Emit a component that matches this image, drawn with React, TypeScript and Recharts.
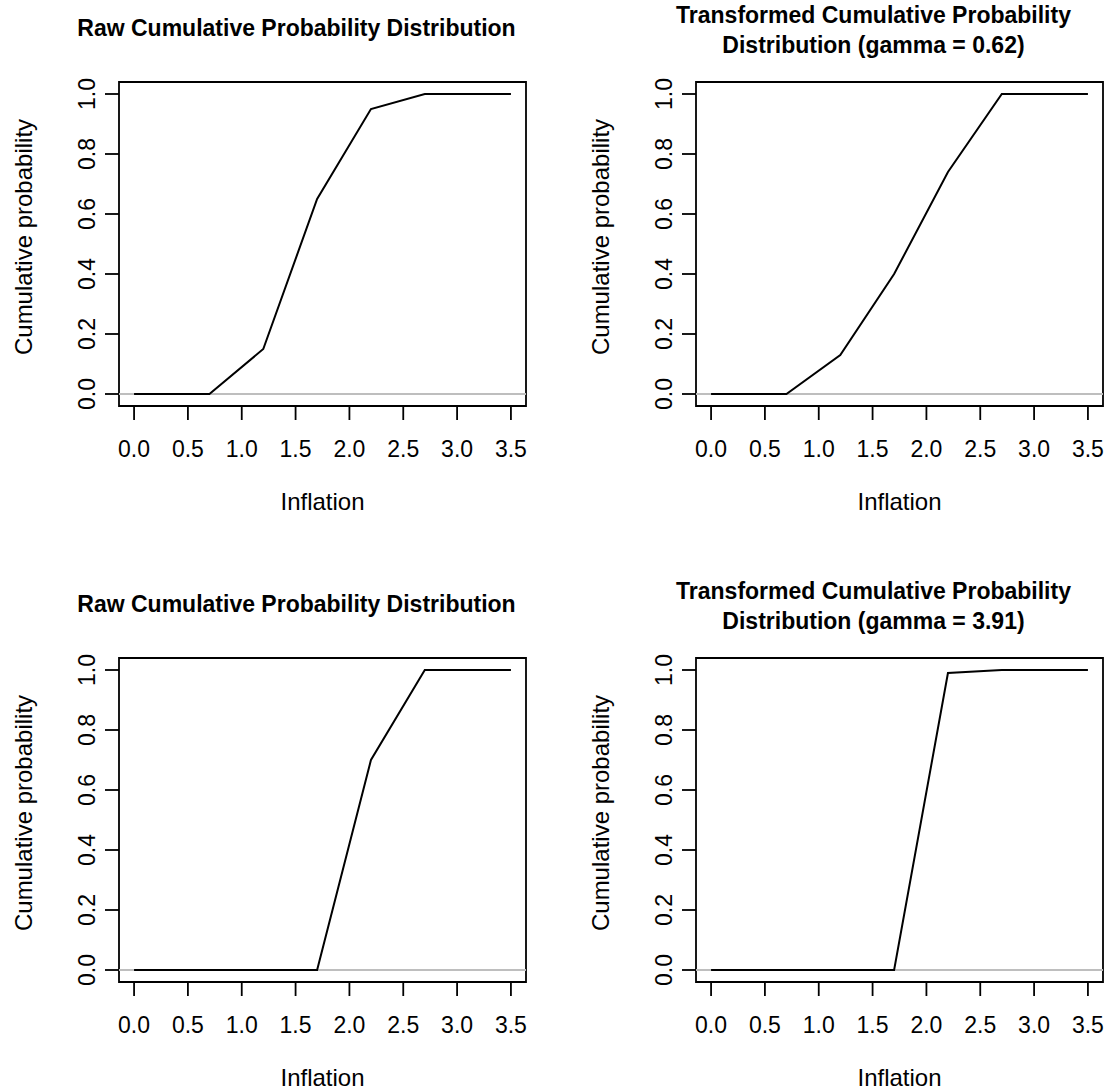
import { LineChart, Line, XAxis, YAxis, ReferenceLine, ReferenceArea } from "recharts";

// inflation grid shared by all four panels
const inflation = [0, 0.7, 1.2, 1.7, 2.2, 2.7, 3.5];

const rawTop = [0, 0, 0.15, 0.65, 0.95, 1, 1];
const transformedTop = [0, 0, 0.13, 0.4, 0.74, 1, 1];
const rawBottom = [0, 0, 0, 0, 0.7, 1, 1];
const transformedBottom = [0, 0, 0, 0, 0.99, 1, 1];

const xTicks = [0, 0.5, 1, 1.5, 2, 2.5, 3, 3.5];
const yTicks = [0, 0.2, 0.4, 0.6, 0.8, 1];

const X_DOMAIN: [number, number] = [-0.14, 3.64];
const Y_DOMAIN: [number, number] = [-0.04, 1.04];

const FONT = '"Liberation Sans", Arial, Helvetica, sans-serif';
const W = 556;
const BW = 407;
const BH = 324;

interface PanelProps {
  x0: number;
  y0: number;
  h: number;
  boxLeft: number;
  boxTop: number;
  title: string[];
  values: number[];
}

function Panel({ x0, y0, h, boxLeft, boxTop, title, values }: PanelProps) {
  const data = inflation.map((x, i) => ({ x, p: values[i] }));
  const plotL = boxLeft - x0;
  const plotT = boxTop - y0;
  const right = W - plotL - BW;
  const xAxisH = h - plotT - BH;
  const cx = plotL + BW / 2;
  const cy = plotT + BH / 2;
  const tickBase = plotT + BH + 51;
  const yTickX = plotL - 24;
  const titleX = cx - 26;
  const titleBase = title.length === 1 ? plotT - 46 : plotT - 59;

  return (
    <div style={{ position: "absolute", left: x0, top: y0, width: W, height: h }}>
      <LineChart width={W} height={h} data={data} margin={{ top: plotT, right, bottom: 0, left: 0 }}>
        <XAxis
          type="number"
          dataKey="x"
          domain={X_DOMAIN}
          ticks={xTicks}
          interval={0}
          allowDataOverflow
          axisLine={false}
          stroke="#000"
          tickLine={{ stroke: "#000", strokeWidth: 1.8 }}
          tickSize={14}
          height={xAxisH}
          tick={(p: any) => (
            <text x={p.x} y={tickBase} textAnchor="middle" fontSize={23} fontFamily={FONT} fill="#000">
              {Number(p.payload.value).toFixed(1)}
            </text>
          )}
        />
        <YAxis
          type="number"
          domain={Y_DOMAIN}
          ticks={yTicks}
          interval={0}
          allowDataOverflow
          axisLine={false}
          stroke="#000"
          tickLine={{ stroke: "#000", strokeWidth: 1.8 }}
          tickSize={14}
          width={plotL}
          tick={(p: any) => (
            <text
              x={yTickX}
              y={p.y}
              transform={`rotate(-90, ${yTickX}, ${p.y})`}
              textAnchor="middle"
              fontSize={23}
              fontFamily={FONT}
              fill="#000"
            >
              {Number(p.payload.value).toFixed(1)}
            </text>
          )}
        />
        <ReferenceArea x1={X_DOMAIN[0]} x2={X_DOMAIN[1]} y1={Y_DOMAIN[0]} y2={Y_DOMAIN[1]} fill="none" stroke="#000" strokeWidth={1.8} />
        <ReferenceLine y={0} stroke="#bebebe" strokeWidth={1.8} />
        <Line type="linear" dataKey="p" stroke="#000" strokeWidth={2} dot={false} isAnimationActive={false} />
      </LineChart>
      <svg style={{ position: "absolute", left: 0, top: 0, pointerEvents: "none" }} width={W} height={h}>
        {title.map((t, i) => (
          <text key={i} x={titleX} y={titleBase + i * 30} textAnchor="middle" fontSize={23} fontWeight="bold" fontFamily={FONT} fill="#000">
            {t}
          </text>
        ))}
        <text x={cx} y={plotT + BH + 104} textAnchor="middle" fontSize={24} fontFamily={FONT} fill="#000">
          Inflation
        </text>
        <text
          x={plotL - 87}
          y={cy - 7}
          transform={`rotate(-90, ${plotL - 87}, ${cy - 7})`}
          textAnchor="middle"
          fontSize={24}
          fontFamily={FONT}
          fill="#000"
        >
          Cumulative probability
        </text>
      </svg>
    </div>
  );
}

export default function App() {
  return (
    <div style={{ position: "absolute", left: 0, top: 0, width: 1112, height: 1091, background: "#fff" }}>
      <Panel x0={0} y0={0} h={545} boxLeft={119} boxTop={82} title={["Raw Cumulative Probability Distribution"]} values={rawTop} />
      <Panel
        x0={556}
        y0={0}
        h={545}
        boxLeft={696}
        boxTop={82}
        title={["Transformed Cumulative Probability", "Distribution (gamma = 0.62)"]}
        values={transformedTop}
      />
      <Panel x0={0} y0={545} h={546} boxLeft={119} boxTop={658} title={["Raw Cumulative Probability Distribution"]} values={rawBottom} />
      <Panel
        x0={556}
        y0={545}
        h={546}
        boxLeft={696}
        boxTop={658}
        title={["Transformed Cumulative Probability", "Distribution (gamma = 3.91)"]}
        values={transformedBottom}
      />
    </div>
  );
}
